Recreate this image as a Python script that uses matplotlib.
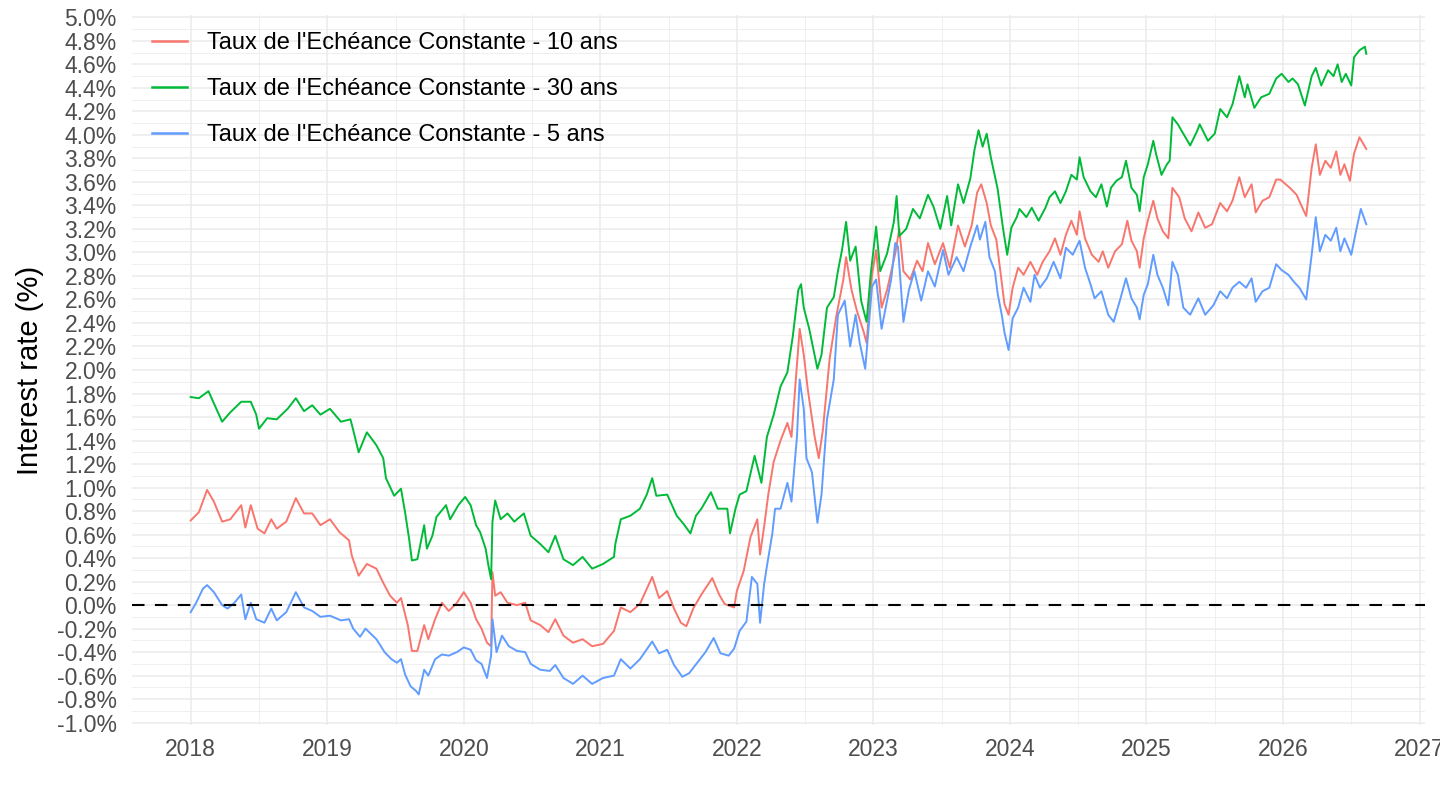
import numpy as np
import matplotlib
matplotlib.use("Agg")
import matplotlib.pyplot as plt
from matplotlib.ticker import MultipleLocator, FuncFormatter

# Taux de l'Echeance Constante (TEC) (decimal years, %)
dates_30y = [2018.00, 2018.06, 2018.13, 2018.23, 2018.29, 2018.37, 2018.44, 2018.48, 2018.50, 2018.56,
             2018.63, 2018.71, 2018.77, 2018.83, 2018.89, 2018.95, 2019.02, 2019.10, 2019.17, 2019.19,
             2019.23, 2019.29, 2019.36, 2019.41, 2019.43, 2019.49, 2019.54, 2019.57, 2019.60, 2019.62,
             2019.66, 2019.71, 2019.73, 2019.77, 2019.80, 2019.87, 2019.90, 2019.96, 2020.01, 2020.05,
             2020.09, 2020.12, 2020.16, 2020.18, 2020.20, 2020.21, 2020.23, 2020.27, 2020.32, 2020.37,
             2020.44, 2020.49, 2020.56, 2020.62, 2020.67, 2020.73, 2020.80, 2020.87, 2020.94, 2021.02,
             2021.10, 2021.11, 2021.15, 2021.22, 2021.29, 2021.34, 2021.38, 2021.41, 2021.49, 2021.56,
             2021.61, 2021.66, 2021.70, 2021.74, 2021.81, 2021.86, 2021.93, 2021.95, 2021.99, 2022.02,
             2022.07, 2022.13, 2022.18, 2022.22, 2022.27, 2022.32, 2022.37, 2022.41, 2022.45, 2022.47,
             2022.49, 2022.53, 2022.59, 2022.62, 2022.66, 2022.71, 2022.74, 2022.77, 2022.80, 2022.83,
             2022.87, 2022.91, 2022.95, 2022.98, 2023.02, 2023.05, 2023.10, 2023.15, 2023.17, 2023.19,
             2023.24, 2023.29, 2023.34, 2023.40, 2023.44, 2023.49, 2023.54, 2023.57, 2023.62, 2023.66,
             2023.71, 2023.74, 2023.77, 2023.80, 2023.83, 2023.86, 2023.91, 2023.95, 2023.98, 2024.01,
             2024.05, 2024.07, 2024.12, 2024.16, 2024.21, 2024.26, 2024.29, 2024.33, 2024.37, 2024.41,
             2024.45, 2024.49, 2024.51, 2024.54, 2024.59, 2024.63, 2024.67, 2024.71, 2024.74, 2024.78,
             2024.82, 2024.85, 2024.89, 2024.93, 2024.95, 2024.98, 2025.01, 2025.05, 2025.07, 2025.11,
             2025.15, 2025.17, 2025.19, 2025.23, 2025.27, 2025.32, 2025.37, 2025.39, 2025.45, 2025.50,
             2025.54, 2025.59, 2025.63, 2025.68, 2025.72, 2025.74, 2025.79, 2025.84, 2025.90, 2025.95,
             2025.99, 2026.04, 2026.07, 2026.11, 2026.16, 2026.21, 2026.24, 2026.28, 2026.33, 2026.37,
             2026.40, 2026.43, 2026.46, 2026.50, 2026.52, 2026.56, 2026.60, 2026.61]
rate_30y = [1.77, 1.76, 1.82, 1.56, 1.64, 1.73, 1.73, 1.62, 1.50, 1.59,
            1.58, 1.67, 1.76, 1.65, 1.70, 1.62, 1.67, 1.56, 1.58, 1.49,
            1.30, 1.47, 1.36, 1.25, 1.08, 0.93, 0.99, 0.79, 0.56, 0.38,
            0.39, 0.68, 0.48, 0.59, 0.75, 0.85, 0.73, 0.85, 0.92, 0.85,
            0.68, 0.62, 0.48, 0.34, 0.22, 0.71, 0.89, 0.73, 0.78, 0.71,
            0.78, 0.59, 0.52, 0.45, 0.59, 0.39, 0.34, 0.41, 0.31, 0.35,
            0.41, 0.52, 0.73, 0.76, 0.82, 0.94, 1.08, 0.93, 0.94, 0.76,
            0.69, 0.61, 0.76, 0.82, 0.96, 0.82, 0.82, 0.61, 0.82, 0.94,
            0.97, 1.27, 1.04, 1.43, 1.62, 1.86, 1.98, 2.29, 2.68, 2.73,
            2.53, 2.35, 2.01, 2.13, 2.53, 2.62, 2.84, 3.02, 3.26, 2.93,
            3.05, 2.59, 2.41, 2.81, 3.22, 2.84, 2.99, 3.26, 3.48, 3.14,
            3.20, 3.37, 3.29, 3.49, 3.39, 3.20, 3.48, 3.23, 3.58, 3.42,
            3.63, 3.87, 4.04, 3.90, 4.01, 3.81, 3.54, 3.20, 2.98, 3.21,
            3.30, 3.37, 3.30, 3.38, 3.27, 3.38, 3.47, 3.52, 3.42, 3.52,
            3.66, 3.62, 3.81, 3.64, 3.52, 3.47, 3.58, 3.39, 3.55, 3.61,
            3.64, 3.78, 3.55, 3.49, 3.35, 3.64, 3.75, 3.95, 3.84, 3.66,
            3.75, 3.78, 4.15, 4.09, 4.01, 3.91, 4.03, 4.09, 3.95, 4.01,
            4.22, 4.15, 4.26, 4.50, 4.32, 4.43, 4.23, 4.32, 4.35, 4.48,
            4.52, 4.45, 4.48, 4.43, 4.25, 4.50, 4.57, 4.42, 4.55, 4.50,
            4.60, 4.45, 4.52, 4.42, 4.66, 4.72, 4.75, 4.69]

dates_10y = [2018.00, 2018.06, 2018.12, 2018.17, 2018.23, 2018.29, 2018.37, 2018.40, 2018.44, 2018.49,
             2018.54, 2018.59, 2018.63, 2018.70, 2018.77, 2018.83, 2018.89, 2018.95, 2019.02, 2019.09,
             2019.16, 2019.18, 2019.23, 2019.29, 2019.36, 2019.41, 2019.46, 2019.51, 2019.54, 2019.59,
             2019.62, 2019.66, 2019.71, 2019.74, 2019.79, 2019.84, 2019.89, 2019.95, 2020.00, 2020.05,
             2020.09, 2020.13, 2020.17, 2020.20, 2020.21, 2020.23, 2020.27, 2020.32, 2020.39, 2020.45,
             2020.49, 2020.56, 2020.62, 2020.67, 2020.73, 2020.80, 2020.87, 2020.94, 2021.02, 2021.10,
             2021.15, 2021.22, 2021.29, 2021.38, 2021.43, 2021.49, 2021.54, 2021.59, 2021.63, 2021.68,
             2021.74, 2021.82, 2021.87, 2021.91, 2021.98, 2022.00, 2022.05, 2022.10, 2022.15, 2022.17,
             2022.20, 2022.23, 2022.27, 2022.32, 2022.37, 2022.40, 2022.44, 2022.46, 2022.49, 2022.52,
             2022.57, 2022.60, 2022.63, 2022.68, 2022.73, 2022.78, 2022.80, 2022.84, 2022.88, 2022.93,
             2022.95, 2022.99, 2023.02, 2023.06, 2023.10, 2023.16, 2023.19, 2023.22, 2023.27, 2023.32,
             2023.36, 2023.40, 2023.45, 2023.51, 2023.56, 2023.62, 2023.67, 2023.72, 2023.76, 2023.79,
             2023.83, 2023.86, 2023.90, 2023.93, 2023.96, 2023.99, 2024.02, 2024.06, 2024.10, 2024.15,
             2024.20, 2024.24, 2024.29, 2024.33, 2024.37, 2024.41, 2024.45, 2024.49, 2024.51, 2024.55,
             2024.60, 2024.65, 2024.68, 2024.72, 2024.77, 2024.82, 2024.86, 2024.89, 2024.93, 2024.95,
             2024.98, 2025.01, 2025.05, 2025.08, 2025.12, 2025.16, 2025.19, 2025.24, 2025.28, 2025.33,
             2025.38, 2025.43, 2025.48, 2025.54, 2025.59, 2025.63, 2025.68, 2025.72, 2025.77, 2025.80,
             2025.85, 2025.90, 2025.95, 2025.98, 2026.05, 2026.10, 2026.13, 2026.17, 2026.21, 2026.24,
             2026.27, 2026.31, 2026.35, 2026.39, 2026.42, 2026.45, 2026.49, 2026.52, 2026.56, 2026.61]
rate_10y = [0.72, 0.79, 0.98, 0.88, 0.71, 0.73, 0.85, 0.66, 0.85, 0.65,
            0.61, 0.73, 0.65, 0.71, 0.91, 0.78, 0.78, 0.68, 0.73, 0.62,
            0.55, 0.42, 0.25, 0.35, 0.31, 0.19, 0.08, 0.02, 0.06, -0.17,
            -0.39, -0.39, -0.17, -0.29, -0.12, 0.02, -0.05, 0.02, 0.11, 0.02,
            -0.12, -0.20, -0.32, -0.35, 0.28, 0.08, 0.11, 0.02, 0.00, 0.02,
            -0.13, -0.17, -0.23, -0.12, -0.26, -0.32, -0.29, -0.35, -0.33, -0.22,
            -0.02, -0.06, 0.01, 0.24, 0.06, 0.12, -0.03, -0.15, -0.18, -0.03,
            0.09, 0.23, 0.09, 0.01, -0.02, 0.12, 0.29, 0.58, 0.73, 0.43,
            0.67, 0.94, 1.22, 1.40, 1.55, 1.43, 2.04, 2.35, 2.13, 1.83,
            1.43, 1.25, 1.49, 2.10, 2.47, 2.77, 2.96, 2.68, 2.50, 2.32,
            2.23, 2.81, 3.02, 2.53, 2.68, 2.99, 3.20, 2.84, 2.77, 2.93,
            2.84, 3.08, 2.90, 3.08, 2.87, 3.23, 3.05, 3.23, 3.51, 3.58,
            3.42, 3.23, 3.11, 2.84, 2.56, 2.47, 2.70, 2.87, 2.81, 2.92,
            2.81, 2.92, 3.01, 3.12, 2.98, 3.15, 3.27, 3.15, 3.35, 3.12,
            2.98, 2.92, 3.01, 2.87, 3.01, 3.07, 3.27, 3.10, 3.01, 2.87,
            3.12, 3.27, 3.44, 3.29, 3.18, 3.12, 3.55, 3.47, 3.29, 3.18,
            3.34, 3.21, 3.24, 3.42, 3.35, 3.44, 3.64, 3.47, 3.58, 3.34,
            3.44, 3.47, 3.62, 3.62, 3.55, 3.49, 3.41, 3.31, 3.72, 3.92,
            3.66, 3.78, 3.72, 3.86, 3.66, 3.75, 3.61, 3.84, 3.98, 3.88]

dates_5y = [2018.00, 2018.04, 2018.09, 2018.12, 2018.17, 2018.23, 2018.27, 2018.32, 2018.37, 2018.40,
            2018.44, 2018.48, 2018.54, 2018.59, 2018.63, 2018.70, 2018.77, 2018.83, 2018.89, 2018.95,
            2019.02, 2019.10, 2019.16, 2019.19, 2019.24, 2019.28, 2019.36, 2019.42, 2019.47, 2019.51,
            2019.54, 2019.57, 2019.61, 2019.65, 2019.67, 2019.71, 2019.74, 2019.79, 2019.84, 2019.89,
            2019.95, 2020.00, 2020.05, 2020.09, 2020.13, 2020.17, 2020.20, 2020.21, 2020.24, 2020.28,
            2020.33, 2020.39, 2020.45, 2020.49, 2020.56, 2020.63, 2020.67, 2020.73, 2020.80, 2020.87,
            2020.94, 2021.02, 2021.10, 2021.15, 2021.22, 2021.29, 2021.38, 2021.43, 2021.49, 2021.54,
            2021.60, 2021.65, 2021.71, 2021.77, 2021.83, 2021.88, 2021.94, 2021.98, 2022.02, 2022.07,
            2022.11, 2022.15, 2022.17, 2022.20, 2022.22, 2022.26, 2022.28, 2022.32, 2022.37, 2022.40,
            2022.44, 2022.46, 2022.49, 2022.51, 2022.55, 2022.59, 2022.62, 2022.66, 2022.71, 2022.74,
            2022.79, 2022.83, 2022.87, 2022.90, 2022.94, 2022.96, 2022.99, 2023.02, 2023.06, 2023.10,
            2023.13, 2023.16, 2023.18, 2023.22, 2023.26, 2023.30, 2023.35, 2023.40, 2023.45, 2023.51,
            2023.55, 2023.61, 2023.66, 2023.71, 2023.76, 2023.78, 2023.82, 2023.85, 2023.89, 2023.91,
            2023.94, 2023.96, 2023.99, 2024.02, 2024.06, 2024.10, 2024.15, 2024.18, 2024.22, 2024.27,
            2024.32, 2024.37, 2024.41, 2024.46, 2024.51, 2024.55, 2024.59, 2024.62, 2024.67, 2024.72,
            2024.76, 2024.81, 2024.85, 2024.89, 2024.93, 2024.95, 2024.98, 2025.01, 2025.05, 2025.08,
            2025.12, 2025.16, 2025.19, 2025.23, 2025.27, 2025.32, 2025.38, 2025.43, 2025.49, 2025.54,
            2025.59, 2025.63, 2025.68, 2025.73, 2025.77, 2025.80, 2025.85, 2025.90, 2025.95, 2025.99,
            2026.04, 2026.08, 2026.12, 2026.17, 2026.21, 2026.24, 2026.27, 2026.31, 2026.35, 2026.39,
            2026.42, 2026.45, 2026.50, 2026.54, 2026.57, 2026.61]
rate_5y = [-0.06, 0.02, 0.14, 0.17, 0.11, 0.00, -0.03, 0.02, 0.09, -0.12,
           0.02, -0.12, -0.15, -0.03, -0.13, -0.06, 0.11, -0.02, -0.05, -0.10,
           -0.09, -0.13, -0.12, -0.20, -0.27, -0.20, -0.29, -0.40, -0.46, -0.49,
           -0.46, -0.59, -0.69, -0.73, -0.76, -0.55, -0.60, -0.46, -0.42, -0.43,
           -0.40, -0.36, -0.38, -0.47, -0.50, -0.62, -0.43, -0.12, -0.40, -0.26,
           -0.35, -0.39, -0.40, -0.50, -0.55, -0.56, -0.51, -0.62, -0.67, -0.60,
           -0.67, -0.62, -0.60, -0.46, -0.54, -0.46, -0.31, -0.41, -0.38, -0.51,
           -0.61, -0.58, -0.49, -0.40, -0.28, -0.41, -0.43, -0.37, -0.22, -0.14,
           0.24, 0.18, -0.15, 0.18, 0.33, 0.61, 0.82, 0.82, 1.04, 0.88,
           1.43, 1.92, 1.67, 1.25, 1.13, 0.70, 0.94, 1.58, 1.92, 2.47,
           2.59, 2.20, 2.47, 2.23, 2.01, 2.29, 2.71, 2.77, 2.35, 2.59,
           2.77, 3.08, 3.05, 2.41, 2.68, 2.84, 2.59, 2.84, 2.71, 3.02,
           2.81, 2.96, 2.84, 3.05, 3.23, 3.11, 3.26, 2.96, 2.84, 2.65,
           2.47, 2.32, 2.17, 2.44, 2.53, 2.70, 2.58, 2.81, 2.70, 2.78,
           2.92, 2.78, 3.04, 2.98, 3.10, 2.87, 2.73, 2.61, 2.67, 2.47,
           2.41, 2.61, 2.78, 2.61, 2.53, 2.43, 2.64, 2.73, 2.98, 2.81,
           2.70, 2.55, 2.92, 2.81, 2.53, 2.47, 2.61, 2.47, 2.55, 2.67,
           2.61, 2.70, 2.75, 2.70, 2.78, 2.58, 2.67, 2.70, 2.90, 2.85,
           2.81, 2.75, 2.70, 2.60, 2.98, 3.30, 3.01, 3.15, 3.10, 3.21,
           3.01, 3.12, 2.98, 3.21, 3.37, 3.24]

labels = ["Taux de l'Echéance Constante - 10 ans",
          "Taux de l'Echéance Constante - 30 ans",
          "Taux de l'Echéance Constante - 5 ans"]
colors = ["#F8766D", "#00BA38", "#619CFF"]

plt.rcParams['font.family'] = ['Liberation Sans', 'DejaVu Sans']

fig = plt.figure(figsize=(14.4, 8.1), dpi=100)
ax = fig.add_axes([132 / 1440, 85 / 810, 1293 / 1440, 710 / 810])

series = [(dates_10y, rate_10y), (dates_30y, rate_30y), (dates_5y, rate_5y)]
for (d, r), lab, col in zip(series, labels, colors):
    ax.plot(d, r, color=col, lw=1.4, label=lab)

ax.axhline(0, color="black", lw=1.5, ls=(0, (6, 5)), zorder=5)

# ggplot2 theme_minimal look
ax.set_facecolor("white")
for s in ax.spines.values():
    s.set_visible(False)
ax.set_xlim(2017.57, 2027.04)
ax.set_ylim(-1.02, 5.02)
ax.xaxis.set_major_locator(MultipleLocator(1))
ax.xaxis.set_minor_locator(MultipleLocator(0.5))
ax.yaxis.set_major_locator(MultipleLocator(0.2))
ax.yaxis.set_minor_locator(MultipleLocator(0.1))
ax.xaxis.set_major_formatter(FuncFormatter(lambda v, p: f"{int(round(v))}"))
ax.yaxis.set_major_formatter(FuncFormatter(lambda v, p: f"{v:.1f}%"))
ax.grid(which="major", color="#EBEBEB", lw=1.1)
ax.grid(which="minor", color="#EBEBEB", lw=0.55)
ax.set_axisbelow(True)
ax.tick_params(which="both", length=0, labelsize=16.5, colors="#4D4D4D")
ax.tick_params(axis="y", pad=11)
ax.tick_params(axis="x", pad=9)
ax.set_ylabel("Interest rate (%)", fontsize=21)
ax.yaxis.set_label_coords(-88 / 1293, 0.5)

leg = ax.legend(loc="upper left", bbox_to_anchor=(20 / 1293, 0.976), frameon=False,
                fontsize=17, handlelength=1.5, handletextpad=0.85, labelspacing=1.02,
                borderpad=0, borderaxespad=0)
for line in leg.get_lines():
    line.set_linewidth(1.8)

fig.savefig("out.png", dpi=100)
